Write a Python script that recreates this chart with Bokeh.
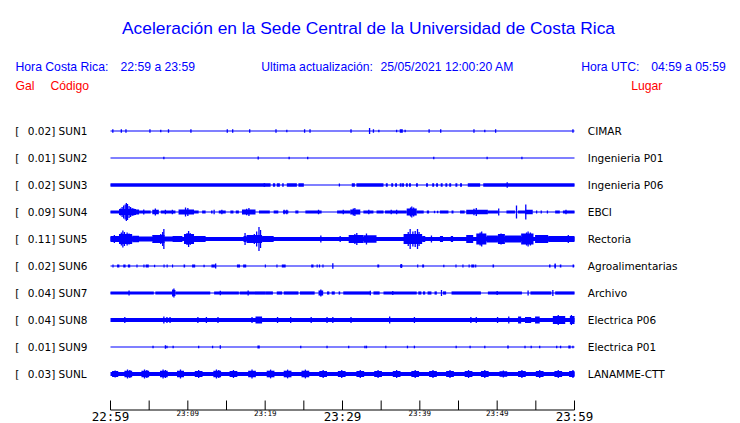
from bokeh.plotting import figure
from bokeh.models import Range1d
from bokeh.core.properties import value
from bokeh.embed import file_html
from bokeh.resources import INLINE

# ---------------- data ----------------
TITLE = "Aceleración en la Sede Central de la Universidad de Costa Rica"
HDR_CR = ["Hora Costa Rica:", "22:59 a 23:59"]
HDR_UPD = ["Ultima actualización:", "25/05/2021 12:00:20 AM"]
HDR_UTC = ["Hora UTC:", "04:59 a 05:59"]
COL_HEAD = ["Gal", "Código", "Lugar"]

CODES = ["SUN1", "SUN2", "SUN3", "SUN4", "SUN5", "SUN6", "SUN7", "SUN8", "SUN9", "SUNL"]
PEAK_GAL = ["0.02", "0.01", "0.02", "0.09", "0.11", "0.02", "0.04", "0.04", "0.01", "0.03"]
PLACES = ["CIMAR", "Ingenieria P01", "Ingenieria P06", "EBCI", "Rectoria",
          "Agroalimentarias", "Archivo", "Electrica P06", "Electrica P01", "LANAMME-CTT"]

# time axis: minutes after 22:59
TICK_MINUTES = [0, 5, 10, 15, 20, 25, 30, 35, 40, 45, 50, 55, 60]
MAJOR_TICKS = [0, 30, 60]
MAJOR_LABELS = ["22:59", "23:29", "23:59"]
MINOR_LABEL_TICKS = [10, 20, 40, 50]
MINOR_LABELS = ["23:09", "23:19", "23:39", "23:49"]

# background noise level (relative amplitude) of every trace
BASE = [0.5, 0.5, 0.6, 0.5, 2.1, 0.5, 0.6, 2.0, 0.5, 2.0]

# (minute, relative amplitude) short spikes
SUN1_SPIKES = [(0.3, 1.7), (1.4, 1.7), (2.0, 1.7), (5.1, 1.7), (6.5, 1.2), (7.5, 1.7), (10.4, 1.7),
               (15.1, 1.7), (15.8, 1.7), (18.0, 1.7), (21.4, 1.7), (22.8, 1.2), (25.1, 1.7), (25.8, 1.7),
               (31.1, 1.7), (33.5, 3.0), (34.0, 1.7), (34.7, 1.2), (37.0, 1.2), (38.1, 1.2), (41.2, 1.7),
               (42.7, 1.7), (47.0, 1.7), (48.4, 1.2), (49.8, 1.7), (59.8, 1.7)]
SUN2_SPIKES = [(6.9, 1.2), (19.1, 1.5), (23.1, 1.2), (25.5, 1.2), (41.8, 1.2), (48.7, 1.2), (53.2, 1.2)]
SUN3_SPIKES = [(29.6, 1.5), (51.3, 2.7)]
SUN4_SPIKES = [(1.3, 3.5), (1.5, 5.0), (1.7, 6.5), (1.9, 7.5), (2.05, 9.0), (2.2, 8.0), (2.4, 6.0),
               (2.6, 5.0), (2.8, 4.0), (3.0, 3.5), (4.3, 2.5), (5.8, 3.5), (7.1, 2.3), (8.0, 2.3),
               (9.7, 4.5), (10.0, 4.0), (13.4, 2.3), (14.4, 2.3), (17.6, 3.2), (17.9, 4.0),
               (22.45, 2.3), (22.8, 2.3), (26.9, 2.3), (30.1, 2.3), (31.4, 3.5), (31.6, 4.0),
               (33.4, 2.3), (36.3, 2.3), (37.0, 2.3), (38.8, 4.5), (38.96, 5.5), (39.2, 4.5),
               (41.9, 1.2), (42.3, 1.2), (47.0, 3.2), (47.3, 4.0), (50.2, 3.5), (52.5, 6.5),
               (53.7, 7.5), (55.1, 1.6), (55.7, 1.6), (56.5, 1.6), (58.9, 2.3)]
SUN5_SPIKES = [(0.5, 4.0), (1.4, 6.5), (1.6, 8.5), (1.8, 7.0), (2.15, 6.5), (2.4, 5.5), (6.5, 5.0),
               (6.75, 7.0), (6.9, 10.0), (9.9, 6.0), (10.1, 8.0), (10.3, 6.0), (17.4, 6.0),
               (18.6, 5.0), (18.9, 7.5), (19.2, 12.0), (19.4, 9.0), (27.2, 3.5), (29.7, 3.0),
               (31.6, 5.0), (31.85, 6.0), (33.1, 5.5), (38.5, 7.0), (38.75, 10.0), (39.1, 7.5),
               (39.4, 8.0), (39.7, 10.0), (39.9, 7.0), (41.5, 3.5), (47.8, 6.5), (48.0, 7.5),
               (50.5, 5.5), (53.8, 6.5), (54.0, 7.5), (54.3, 6.5), (59.2, 4.0)]
SUN6_SPIKES = [(5.7, 1.2), (12.1, 1.2), (13.6, 2.5), (28.75, 2.7), (37.6, 2.0), (43.1, 1.2), (57.5, 2.5)]
SUN7_SPIKES = [(2.4, 2.5), (8.05, 3.5), (8.2, 4.6), (14.2, 2.3), (17.8, 2.5), (27.2, 3.5), (33.6, 2.3),
               (36.5, 2.0), (42.8, 3.0), (50.0, 2.0), (54.0, 2.5), (57.2, 3.0)]
SUN8_SPIKES = [(1.85, 3.0), (6.9, 3.5), (7.3, 3.0), (7.7, 3.0), (11.3, 3.0), (12.4, 3.0), (13.9, 3.0),
               (18.3, 3.0), (21.6, 3.0), (23.3, 3.0), (25.95, 3.0), (28.0, 3.0), (28.75, 3.0),
               (31.1, 3.0), (36.1, 3.5), (39.3, 3.0), (46.6, 3.0), (47.3, 3.0), (50.05, 3.0),
               (51.5, 3.5), (57.9, 5.0), (59.6, 5.0)]
SUN9_SPIKES = [(5.5, 1.3), (7.1, 1.7), (7.3, 1.3), (8.1, 1.3), (11.4, 1.3), (13.2, 1.3), (14.2, 1.7),
               (24.6, 1.3), (28.0, 1.3), (30.8, 1.3), (32.9, 1.3), (33.1, 1.3), (35.6, 1.3),
               (38.4, 1.3), (39.3, 1.3), (44.7, 1.3), (46.5, 1.3), (48.4, 1.3), (53.6, 1.3),
               (54.4, 1.3), (55.5, 1.3), (57.7, 1.3), (58.2, 1.3), (59.8, 1.3)]
SUNL_SPIKES = [(0.6, 3.6), (2.2, 4.4), (2.5, 4.0), (4.4, 4.4), (4.7, 4.0), (6.8, 4.4), (7.1, 4.0),
               (9.05, 4.4), (11.4, 4.0), (13.7, 4.4), (14.0, 4.0), (15.9, 4.0), (18.3, 4.4),
               (20.7, 4.4), (22.9, 4.4), (25.2, 4.4), (27.5, 4.0), (29.9, 4.0), (32.3, 4.0),
               (34.6, 4.0), (37.0, 4.0), (39.4, 4.0), (41.7, 4.0), (43.9, 4.0), (46.3, 4.0),
               (48.4, 4.0), (50.8, 3.5), (53.2, 4.0), (55.5, 4.0), (57.9, 4.0), (59.8, 4.0)]

# (start minute, end minute, relative amplitude) sustained shaking
SUN1_BLOCKS = [(37.4, 37.8, 1.7)]
SUN2_BLOCKS = []
SUN3_BLOCKS = [(0.0, 20.0, 1.7), (19.8, 20.7, 1.7), (21.0, 21.3, 1.7), (21.5, 21.9, 1.7),
               (22.2, 22.4, 1.7), (22.8, 24.1, 1.7), (24.3, 25.0, 1.7), (31.2, 31.6, 1.7),
               (31.8, 35.3, 1.7), (35.6, 35.85, 1.7), (36.3, 36.55, 1.7), (36.8, 37.05, 1.7),
               (37.4, 37.65, 1.7), (37.7, 37.95, 1.7), (38.2, 38.45, 1.7), (38.6, 38.85, 1.7),
               (39.5, 39.75, 1.7), (40.8, 41.05, 1.7), (41.6, 41.85, 1.7), (42.1, 42.35, 1.7),
               (42.7, 42.95, 1.7), (43.3, 43.55, 1.7), (43.8, 44.05, 1.7), (44.6, 44.85, 1.7),
               (45.2, 45.45, 1.7), (46.2, 47.8, 1.7), (48.2, 60.0, 1.7)]
SUN4_BLOCKS = [(0.0, 1.1, 1.6), (1.1, 3.3, 3.0), (3.3, 3.7, 2.5), (3.7, 5.2, 1.6), (5.4, 6.25, 2.2),
               (6.5, 8.4, 1.6), (8.8, 10.8, 2.5), (10.8, 11.4, 1.6), (11.85, 12.3, 1.6),
               (13.0, 13.2, 1.6), (14.0, 14.9, 1.6), (15.5, 15.9, 1.6), (16.2, 16.6, 1.6),
               (17.0, 18.75, 2.5), (19.2, 20.6, 1.6), (21.1, 21.7, 1.6), (22.3, 23.0, 1.6),
               (23.9, 24.3, 1.6), (25.2, 27.3, 1.6), (29.3, 31.0, 1.6), (31.0, 32.3, 2.5),
               (32.7, 34.0, 1.6), (34.4, 35.3, 1.6), (35.5, 38.3, 1.6), (38.3, 39.6, 3.5),
               (39.6, 40.5, 1.6), (40.9, 41.2, 1.6), (42.6, 43.7, 1.6), (44.1, 44.35, 1.6),
               (45.2, 45.8, 1.6), (46.0, 48.8, 2.2), (48.8, 50.1, 1.6), (51.2, 52.3, 1.6),
               (52.7, 53.6, 1.6), (53.6, 54.6, 2.2), (57.5, 58.1, 1.6), (58.5, 60.0, 1.6)]
SUN5_BLOCKS = [(0.0, 1.1, 3.0), (1.1, 2.8, 5.0), (2.8, 3.7, 3.2), (3.7, 5.4, 2.6), (5.4, 7.0, 4.0),
               (7.0, 8.0, 2.6), (8.0, 9.3, 3.0), (9.5, 10.8, 5.0), (10.8, 12.3, 3.0),
               (17.2, 17.6, 3.0), (17.6, 19.6, 4.0), (19.6, 21.1, 3.0), (30.8, 32.7, 4.0),
               (32.7, 34.4, 3.8), (37.9, 40.3, 5.0), (40.3, 40.7, 3.0), (42.6, 43.0, 3.0),
               (44.0, 44.3, 3.0), (46.0, 46.9, 4.0), (47.3, 48.6, 5.5), (48.6, 50.1, 3.5),
               (50.1, 51.0, 5.0), (51.0, 53.1, 3.5), (53.1, 54.7, 5.5), (54.9, 56.6, 4.0),
               (56.6, 60.0, 3.0)]
SUN6_BLOCKS = [(0.25, 0.4, 1.5), (0.85, 1.15, 1.5), (1.65, 1.95, 1.5), (2.25, 2.55, 1.5),
               (3.35, 3.5, 1.5), (4.25, 4.4, 1.5), (4.55, 4.95, 1.5), (6.85, 7.0, 1.5),
               (7.25, 7.4, 1.5), (7.95, 8.1, 1.5), (9.45, 9.65, 1.5), (10.55, 10.95, 1.5),
               (13.05, 13.5, 1.5), (16.35, 16.75, 1.5), (17.15, 17.55, 1.5), (19.95, 20.1, 1.5),
               (21.45, 21.6, 1.5), (22.15, 22.65, 1.5), (25.95, 26.25, 1.5), (26.65, 26.8, 1.5),
               (26.95, 27.1, 1.5), (27.4, 27.55, 1.5), (34.5, 34.75, 1.5), (37.45, 37.75, 1.5),
               (39.65, 39.8, 1.5), (40.3, 40.55, 1.5), (44.6, 44.75, 1.5), (45.5, 45.65, 1.5),
               (46.3, 46.45, 1.5), (46.65, 47.05, 1.5), (47.15, 47.3, 1.5), (49.4, 49.6, 1.5),
               (56.7, 56.9, 1.5), (57.4, 57.6, 1.5), (58.1, 58.3, 1.5), (59.75, 59.95, 1.5)]
SUN7_BLOCKS = [(0.0, 2.4, 1.6), (2.4, 5.6, 1.6), (5.8, 8.0, 1.6), (8.0, 8.4, 3.0), (8.4, 12.9, 1.6),
               (13.4, 16.6, 1.6), (16.7, 20.0, 1.6), (20.0, 21.0, 1.6), (21.5, 22.2, 1.6),
               (22.4, 24.3, 1.6), (24.5, 26.4, 1.6), (26.9, 27.5, 2.5), (28.0, 28.3, 1.6),
               (28.6, 29.0, 1.6), (29.5, 29.7, 1.6), (30.1, 33.6, 1.6), (34.0, 34.8, 1.6),
               (35.3, 39.6, 1.6), (39.8, 40.2, 1.6), (40.4, 40.7, 1.6), (41.0, 41.5, 1.6),
               (41.9, 42.2, 1.6), (43.0, 43.4, 1.6), (44.1, 47.9, 1.6), (48.8, 53.2, 1.6),
               (54.3, 57.0, 1.6), (57.5, 60.0, 1.6)]
SUN8_BLOCKS = [(18.75, 19.6, 3.5), (52.7, 53.1, 3.5), (53.6, 54.4, 3.0), (54.9, 55.5, 3.5),
               (57.2, 58.8, 4.0), (59.4, 60.0, 4.0)]
SUN9_BLOCKS = [(19.0, 19.3, 1.5), (51.3, 51.5, 1.5), (59.2, 59.5, 1.5)]
SUNL_BLOCKS = [(0.2, 1.0, 3.0), (1.8, 2.8, 3.3), (4.0, 5.0, 3.3), (6.4, 7.4, 3.3), (8.6, 9.5, 3.3),
               (10.9, 11.9, 3.0), (13.3, 14.3, 3.3), (15.4, 16.4, 3.0), (17.8, 18.8, 3.3),
               (20.2, 21.2, 3.3), (22.4, 23.4, 3.3), (24.7, 25.7, 3.3), (27.0, 28.0, 3.0),
               (29.4, 30.4, 3.0), (31.8, 32.8, 3.0), (34.1, 35.1, 3.0), (36.5, 37.5, 3.0),
               (38.9, 39.9, 3.0), (41.2, 42.2, 3.0), (43.4, 44.4, 3.0), (45.8, 46.8, 3.0),
               (47.9, 48.9, 3.0), (50.3, 51.3, 2.8), (52.7, 53.7, 3.0), (55.0, 56.0, 3.0),
               (57.4, 58.4, 3.0), (59.3, 60.0, 3.0)]

SPIKES = [SUN1_SPIKES, SUN2_SPIKES, SUN3_SPIKES, SUN4_SPIKES, SUN5_SPIKES,
          SUN6_SPIKES, SUN7_SPIKES, SUN8_SPIKES, SUN9_SPIKES, SUNL_SPIKES]
BLOCKS = [SUN1_BLOCKS, SUN2_BLOCKS, SUN3_BLOCKS, SUN4_BLOCKS, SUN5_BLOCKS,
          SUN6_BLOCKS, SUN7_BLOCKS, SUN8_BLOCKS, SUN9_BLOCKS, SUNL_BLOCKS]

# ---------------- layout / style ----------------
W, H = 740, 423
AXIS_Y = 409.5
TICK_TOP = 400
T_LEFT, T_RIGHT = 110, 574          # pixel span of the 60 minutes
PPM = (T_RIGHT - T_LEFT) / 60.0
ROW0, ROW_GAP = 130.5, 27
BLUE = "#0000ff"
RED = "#ff0000"
SANS = "Liberation Sans"
DV = "DejaVu Sans"
MONO = "DejaVu Sans Mono"

p = figure(width=W, height=H, output_backend="svg", toolbar_location=None,
           x_range=Range1d(0, W), y_range=Range1d(H, 0),
           x_axis_type=None, y_axis_type=None, min_border=0,
           outline_line_color=None, background_fill_color="white",
           border_fill_color="white")
p.extra_x_ranges = {"t": Range1d(-T_LEFT / PPM, (W - T_LEFT) / PPM)}

# time axis (line, ticks, labels) in minutes
p.segment(x0=[TICK_MINUTES[0]], x1=[TICK_MINUTES[-1]], y0=[AXIS_Y], y1=[AXIS_Y],
          x_range_name="t", line_color="black", line_width=1)
p.segment(x0=TICK_MINUTES, x1=TICK_MINUTES, y0=[TICK_TOP] * len(TICK_MINUTES),
          y1=[AXIS_Y] * len(TICK_MINUTES), x_range_name="t", line_color="black", line_width=1)
p.text(x=MINOR_LABEL_TICKS, y=[413.3] * len(MINOR_LABEL_TICKS), text=MINOR_LABELS,
       x_range_name="t", text_font=value(MONO), text_font_size=value("7.5px"),
       text_color="black", text_align="center", text_baseline="middle")
p.text(x=MAJOR_TICKS, y=[415.8] * len(MAJOR_TICKS), text=MAJOR_LABELS,
       x_range_name="t", text_font=value(MONO), text_font_size=value("12.5px"),
       text_color="black", text_align="center", text_baseline="middle")

# traces
ql, qr, qt, qb = [], [], [], []
sx, sy0, sy1 = [], [], []
for i in range(len(CODES)):
    yc = ROW0 + ROW_GAP * i
    ql.append(0); qr.append(60); qt.append(yc - BASE[i]); qb.append(yc + BASE[i])
    for (a, b, amp) in BLOCKS[i]:
        ql.append(a); qr.append(b); qt.append(yc - amp); qb.append(yc + amp)
    for (t, amp) in SPIKES[i]:
        sx.append(t); sy0.append(yc - amp); sy1.append(yc + amp)
p.quad(left=ql, right=qr, top=qt, bottom=qb, x_range_name="t",
       fill_color=BLUE, line_color=None)
p.segment(x0=sx, x1=sx, y0=sy0, y1=sy1, x_range_name="t",
          line_color=BLUE, line_width=1.3)

# station labels
rows_y = [ROW0 + ROW_GAP * i for i in range(len(CODES))]
p.text(x=[14.7] * len(CODES), y=rows_y, text=["["] * len(CODES),
       text_font=value(DV), text_font_size=value("10.5px"), text_color="black",
       text_baseline="middle", text_align="left")
p.text(x=[27.3] * len(CODES), y=rows_y, text=[f"{g}] {c}" for g, c in zip(PEAK_GAL, CODES)],
       text_font=value(DV), text_font_size=value("10.5px"), text_color="black",
       text_baseline="middle", text_align="left")
p.text(x=[587.3] * len(CODES), y=rows_y, text=PLACES,
       text_font=value(DV), text_font_size=value("10.5px"), text_color="black",
       text_baseline="middle", text_align="left")

# title and headers
p.text(x=[368], y=[27], text=[TITLE], text_font=value(SANS), text_font_size=value("17.4px"),
       text_color=BLUE, text_align="center", text_baseline="alphabetic")
p.text(x=[15, 120, 260.7, 380, 580.7, 650.7], y=[66] * 6,
       text=HDR_CR + HDR_UPD + HDR_UTC, text_font=value(SANS), text_font_size=value("12.2px"),
       text_color=BLUE, text_align="left", text_baseline="alphabetic")
p.text(x=[15, 50, 630.7], y=[85] * 3, text=COL_HEAD, text_font=value(SANS),
       text_font_size=value("12.2px"), text_color=RED, text_align="left",
       text_baseline="alphabetic")

open("out.html", "w").write(file_html(p, INLINE))
